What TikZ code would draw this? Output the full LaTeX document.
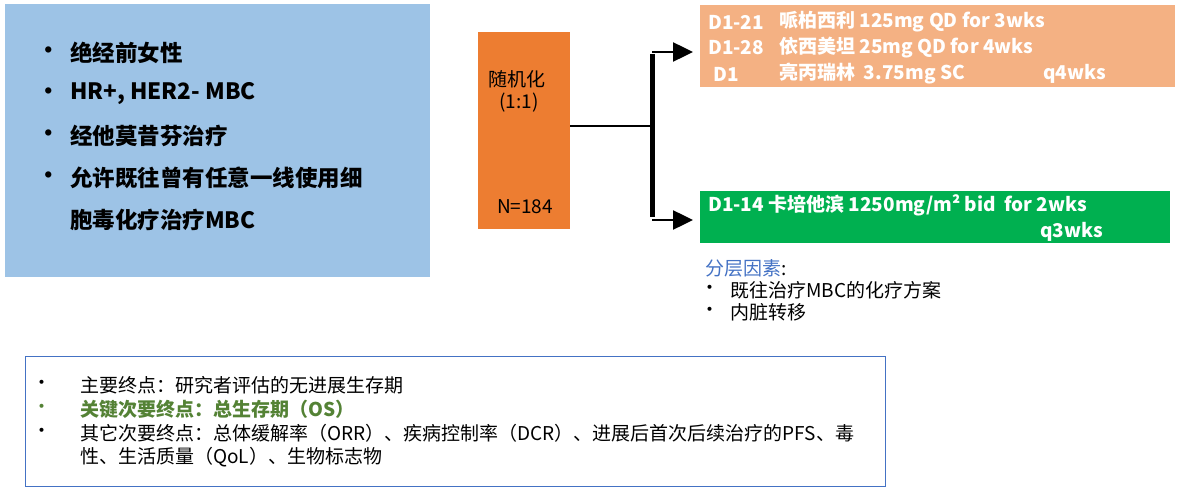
\documentclass[tikz,border=0pt]{standalone}
\usepackage{fontspec}
\setmainfont{Noto Sans CJK SC}
\usetikzlibrary{arrows.meta}
\definecolor{boxblue}{HTML}{9DC3E6}
\definecolor{rorange}{HTML}{ED7D31}
\definecolor{lorange}{HTML}{F4B183}
\definecolor{rgreen}{HTML}{00B050}
\definecolor{dgreen}{HTML}{548235}
\definecolor{lblue}{HTML}{4472C4}
\tikzset{
  lt/.style={anchor=west, inner sep=0pt, font=\bfseries\fontsize{22.5}{26}\selectfont},
  wt/.style={anchor=west, inner sep=0pt, text=white, font=\bfseries\fontsize{19}{22}\selectfont},
  st/.style={anchor=west, inner sep=0pt, font=\fontsize{19}{22}\selectfont},
  bt/.style={anchor=west, inner sep=0pt, font=\fontsize{19}{22}\selectfont},
  rt/.style={inner sep=0pt, font=\fontsize{19}{22}\selectfont},
  arm/.style={line width=2.5pt, -{Triangle[length=20pt,width=19pt]}},
}
\begin{document}
\begin{tikzpicture}[x=1pt,y=-1pt]
\useasboundingbox (0,0) rectangle (1179,492);
% left criteria box
\node[fill=boxblue, minimum width=425pt, minimum height=273pt, anchor=north west, inner sep=0pt] (crit) at (5,4) {};
\foreach \y in {53,94,136,178}{\node[lt] at (37,\y) {•};}
\node[lt] (c1) at (70,53) {绝经前女性};
\node[lt] (c2) at (70,94) {HR+, HER2- MBC};
\node[lt] (c3) at (70,136) {经他莫昔芬治疗};
\node[lt] (c4) at (70,178) {允许既往曾有任意一线使用细};
\node[lt] (c5) at (70,220) {胞毒化疗治疗MBC};
% randomisation box
\node[fill=rorange, minimum width=92pt, minimum height=197pt, anchor=north west, inner sep=0pt] (rand) at (478,32) {};
\node[rt] (r1) at (517,79) {随机化};
\node[rt] (r2) at (519,103) {(1:1)};
\node[rt] (r3) at (525,207) {N=184};
% arm boxes
\node[fill=lorange, minimum width=475pt, minimum height=82pt, anchor=north west, inner sep=0pt] (armA) at (700,5) {};
\node[wt] at (708,22) {D1-21};
\node[wt] at (779,22) {哌柏西利 125mg QD for 3wks};
\node[wt] at (708,48) {D1-28};
\node[wt] at (779,48) {依西美坦 25mg QD for 4wks};
\node[wt] at (713,74) {D1};
\node[wt] at (779,74) {亮丙瑞林\ \ 3.75mg SC};
\node[wt] at (1043,74) {q4wks};
\node[fill=rgreen, minimum width=470pt, minimum height=52pt, anchor=north west, inner sep=0pt] (armB) at (700,191) {};
\node[wt] at (708,205) {D1-14 卡培他滨 1250mg/m² bid\ \ for 2wks};
\node[wt] at (1040,232) {q3wks};
% stratification
\node[st] (s0) at (705,268) {\textcolor{lblue}{分层因素}:};
\node[st] at (700,290) {•};
\node[st] (s1) at (730,290) {既往治疗MBC的化疗方案};
\node[st] at (700,312) {•};
\node[st] (s2) at (730,312) {内脏转移};
% connectors
\coordinate (j) at (652,126);
\coordinate (jt) at (652,52);
\coordinate (jb) at (652,220);
\draw[line width=2pt] (rand.east |- j) -- (j);
\draw[line width=5pt] ([yshift=-2.5pt]jt) -- ([yshift=2.5pt]jb);
\draw[arm, shorten >=7pt] (jt) -- (jt -| armA.west);
\draw[arm, shorten >=7pt] (jb) -- (jb -| armB.west);
% endpoints box
\node[draw=lblue, line width=0.8pt, minimum width=860pt, minimum height=130pt, anchor=north west, inner sep=0pt] (ep) at (25,356) {};
\node[bt] at (32,385) {•};
\node[bt] (e1) at (80,385) {主要终点：研究者评估的无进展生存期};
\node[bt, text=dgreen] at (32,409) {•};
\node[bt, text=dgreen, font=\bfseries\fontsize{19}{22}\selectfont] (e2) at (80,409) {关键次要终点：总生存期（OS）};
\node[bt] at (32,433) {•};
\node[bt] (e3) at (80,433) {其它次要终点：总体缓解率（ORR）、疾病控制率（DCR）、进展后首次后续治疗的PFS、毒};
\node[bt] (e4) at (80,457) {性、生活质量（QoL）、生物标志物};
\end{tikzpicture}
\end{document}
